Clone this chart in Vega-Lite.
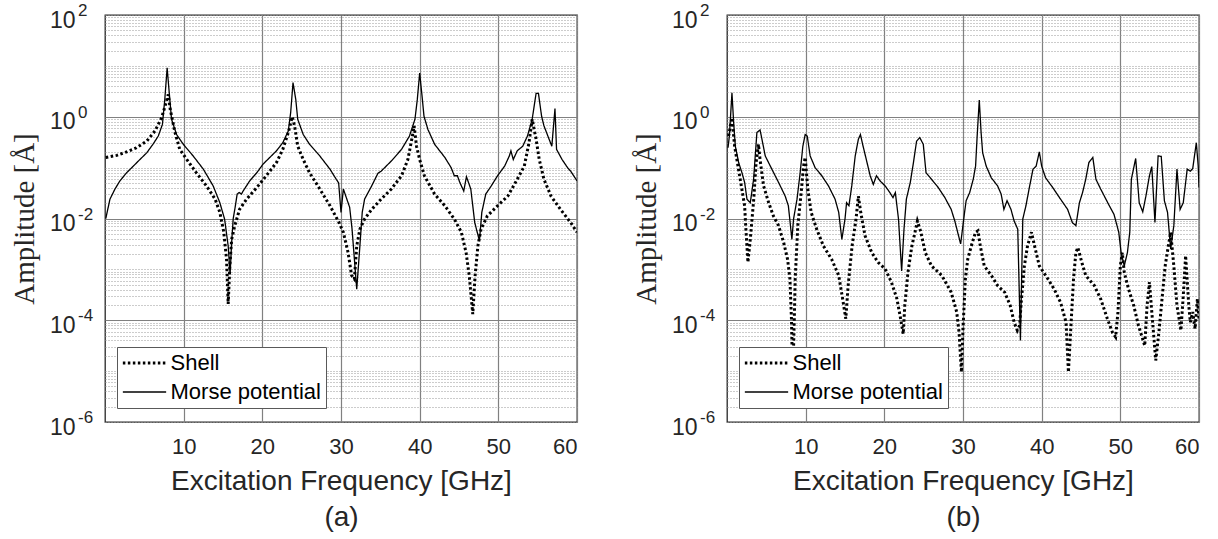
{
"$schema": "https://vega.github.io/schema/vega-lite/v6.json",
"background": "white",
"padding": {"left": 9, "top": 1, "right": 5, "bottom": 5},
"config": {
  "view": {"stroke": "#262626", "strokeWidth": 1.3},
  "font": "Liberation Sans",
  "axis": {"labelFont": "Liberation Sans", "titleFont": "Liberation Sans", "labelColor": "#262626", "titleColor": "#262626", "titleFontWeight": "normal", "domain": false, "ticks": false},
  "legend": {"orient": "none", "legendX": 12, "legendY": 332, "title": null, "fillColor": "white", "strokeColor": "#595959", "padding": 5, "labelFontSize": 22, "labelColor": "black", "labelFont": "Liberation Sans", "symbolType": "M-2.5,0H2.5", "symbolSize": 300, "symbolStrokeColor": "black", "symbolFillColor": "transparent", "symbolOffset": 11.5, "rowPadding": 7, "labelOffset": 15}
},
"datasets": {
"exps": [{"A":100,"e":"2"},{"A":1,"e":"0"},{"A":0.01,"e":"-2"},{"A":0.0001,"e":"-4"},{"A":0.000001,"e":"-6"}],
"a": [
{"f":0.1,"A":0.01,"s":"Morse potential"},{"f":0.63,"A":0.024,"s":"Morse potential"},{"f":1.27,"A":0.038,"s":"Morse potential"},{"f":1.9,"A":0.055,"s":"Morse potential"},{"f":2.75,"A":0.0794,"s":"Morse potential"},{"f":3.6,"A":0.107,"s":"Morse potential"},{"f":4.44,"A":0.1445,"s":"Morse potential"},{"f":5.3,"A":0.195,"s":"Morse potential"},{"f":6.1,"A":0.288,"s":"Morse potential"},{"f":6.77,"A":0.417,"s":"Morse potential"},{"f":7.3,"A":0.708,"s":"Morse potential"},{"f":7.6,"A":2.19,"s":"Morse potential"},{"f":7.9,"A":9.12,"s":"Morse potential"},{"f":8.2,"A":2.57,"s":"Morse potential"},{"f":8.46,"A":0.891,"s":"Morse potential"},{"f":9.1,"A":0.447,"s":"Morse potential"},{"f":9.95,"A":0.288,"s":"Morse potential"},{"f":11.2,"A":0.17,"s":"Morse potential"},{"f":12.5,"A":0.0933,"s":"Morse potential"},{"f":13.75,"A":0.0437,"s":"Morse potential"},{"f":14.6,"A":0.0204,"s":"Morse potential"},{"f":15.2,"A":0.00977,"s":"Morse potential"},{"f":15.66,"A":0.00288,"s":"Morse potential"},{"f":15.9,"A":0.000794,"s":"Morse potential"},{"f":16.1,"A":0.00339,"s":"Morse potential"},{"f":16.3,"A":0.01,"s":"Morse potential"},{"f":16.5,"A":0.0151,"s":"Morse potential"},{"f":16.8,"A":0.0302,"s":"Morse potential"},{"f":17.05,"A":0.0324,"s":"Morse potential"},{"f":17.35,"A":0.0302,"s":"Morse potential"},{"f":17.56,"A":0.0347,"s":"Morse potential"},{"f":18.4,"A":0.055,"s":"Morse potential"},{"f":19.3,"A":0.0794,"s":"Morse potential"},{"f":20.1,"A":0.1175,"s":"Morse potential"},{"f":20.95,"A":0.1585,"s":"Morse potential"},{"f":21.8,"A":0.214,"s":"Morse potential"},{"f":22.6,"A":0.309,"s":"Morse potential"},{"f":23.3,"A":0.525,"s":"Morse potential"},{"f":23.6,"A":1.2,"s":"Morse potential"},{"f":23.9,"A":4.68,"s":"Morse potential"},{"f":24.25,"A":2.19,"s":"Morse potential"},{"f":24.5,"A":0.891,"s":"Morse potential"},{"f":25.2,"A":0.447,"s":"Morse potential"},{"f":26.0,"A":0.288,"s":"Morse potential"},{"f":27.3,"A":0.17,"s":"Morse potential"},{"f":28.6,"A":0.0933,"s":"Morse potential"},{"f":29.4,"A":0.0589,"s":"Morse potential"},{"f":29.7,"A":0.0501,"s":"Morse potential"},{"f":30.0,"A":0.0132,"s":"Morse potential"},{"f":30.3,"A":0.038,"s":"Morse potential"},{"f":31.1,"A":0.0166,"s":"Morse potential"},{"f":31.4,"A":0.00631,"s":"Morse potential"},{"f":32.0,"A":0.000407,"s":"Morse potential"},{"f":32.4,"A":0.00288,"s":"Morse potential"},{"f":32.7,"A":0.0132,"s":"Morse potential"},{"f":33.0,"A":0.024,"s":"Morse potential"},{"f":33.9,"A":0.0437,"s":"Morse potential"},{"f":34.7,"A":0.0776,"s":"Morse potential"},{"f":35.1,"A":0.0851,"s":"Morse potential"},{"f":36.4,"A":0.135,"s":"Morse potential"},{"f":37.7,"A":0.229,"s":"Morse potential"},{"f":38.7,"A":0.417,"s":"Morse potential"},{"f":39.4,"A":0.891,"s":"Morse potential"},{"f":39.7,"A":2.19,"s":"Morse potential"},{"f":40.0,"A":7.24,"s":"Morse potential"},{"f":40.3,"A":2.57,"s":"Morse potential"},{"f":40.55,"A":1.023,"s":"Morse potential"},{"f":41.05,"A":0.562,"s":"Morse potential"},{"f":41.9,"A":0.288,"s":"Morse potential"},{"f":43.2,"A":0.1585,"s":"Morse potential"},{"f":44.0,"A":0.1,"s":"Morse potential"},{"f":44.4,"A":0.0692,"s":"Morse potential"},{"f":44.8,"A":0.0692,"s":"Morse potential"},{"f":45.1,"A":0.0513,"s":"Morse potential"},{"f":45.6,"A":0.0347,"s":"Morse potential"},{"f":45.95,"A":0.0661,"s":"Morse potential"},{"f":46.5,"A":0.038,"s":"Morse potential"},{"f":47.0,"A":0.00832,"s":"Morse potential"},{"f":47.6,"A":0.00363,"s":"Morse potential"},{"f":47.9,"A":0.0132,"s":"Morse potential"},{"f":48.4,"A":0.0302,"s":"Morse potential"},{"f":49.1,"A":0.0437,"s":"Morse potential"},{"f":49.9,"A":0.0692,"s":"Morse potential"},{"f":50.8,"A":0.107,"s":"Morse potential"},{"f":51.4,"A":0.17,"s":"Morse potential"},{"f":51.6,"A":0.214,"s":"Morse potential"},{"f":51.9,"A":0.1445,"s":"Morse potential"},{"f":52.4,"A":0.214,"s":"Morse potential"},{"f":53.1,"A":0.263,"s":"Morse potential"},{"f":53.7,"A":0.417,"s":"Morse potential"},{"f":54.3,"A":0.891,"s":"Morse potential"},{"f":54.8,"A":2.88,"s":"Morse potential"},{"f":55.1,"A":2.88,"s":"Morse potential"},{"f":55.5,"A":1.023,"s":"Morse potential"},{"f":55.8,"A":0.661,"s":"Morse potential"},{"f":56.8,"A":0.263,"s":"Morse potential"},{"f":57.2,"A":1.445,"s":"Morse potential"},{"f":57.4,"A":0.229,"s":"Morse potential"},{"f":58.1,"A":0.1445,"s":"Morse potential"},{"f":58.8,"A":0.1,"s":"Morse potential"},{"f":59.2,"A":0.0851,"s":"Morse potential"},{"f":60.0,"A":0.055,"s":"Morse potential"},
{"f":0.1,"A":0.1585,"s":"Shell"},{"f":1.5,"A":0.174,"s":"Shell"},{"f":2.75,"A":0.204,"s":"Shell"},{"f":4.0,"A":0.2455,"s":"Shell"},{"f":5.3,"A":0.331,"s":"Shell"},{"f":6.35,"A":0.525,"s":"Shell"},{"f":7.2,"A":0.955,"s":"Shell"},{"f":7.75,"A":1.86,"s":"Shell"},{"f":8.04,"A":2.75,"s":"Shell"},{"f":8.3,"A":1.38,"s":"Shell"},{"f":8.9,"A":0.49,"s":"Shell"},{"f":9.5,"A":0.229,"s":"Shell"},{"f":10.4,"A":0.1445,"s":"Shell"},{"f":11.6,"A":0.0794,"s":"Shell"},{"f":12.9,"A":0.0437,"s":"Shell"},{"f":14.0,"A":0.024,"s":"Shell"},{"f":14.6,"A":0.0132,"s":"Shell"},{"f":15.1,"A":0.00537,"s":"Shell"},{"f":15.45,"A":0.00158,"s":"Shell"},{"f":15.66,"A":0.000209,"s":"Shell"},{"f":15.87,"A":0.00117,"s":"Shell"},{"f":16.1,"A":0.00389,"s":"Shell"},{"f":16.5,"A":0.00724,"s":"Shell"},{"f":17.1,"A":0.0151,"s":"Shell"},{"f":18.0,"A":0.024,"s":"Shell"},{"f":19.3,"A":0.0407,"s":"Shell"},{"f":20.5,"A":0.0692,"s":"Shell"},{"f":21.8,"A":0.1259,"s":"Shell"},{"f":22.6,"A":0.229,"s":"Shell"},{"f":23.3,"A":0.49,"s":"Shell"},{"f":23.8,"A":1.0,"s":"Shell"},{"f":24.1,"A":0.661,"s":"Shell"},{"f":24.5,"A":0.263,"s":"Shell"},{"f":25.2,"A":0.1445,"s":"Shell"},{"f":26.0,"A":0.0794,"s":"Shell"},{"f":27.3,"A":0.038,"s":"Shell"},{"f":28.6,"A":0.0178,"s":"Shell"},{"f":29.75,"A":0.00832,"s":"Shell"},{"f":30.3,"A":0.00537,"s":"Shell"},{"f":30.9,"A":0.00214,"s":"Shell"},{"f":31.35,"A":0.000759,"s":"Shell"},{"f":31.7,"A":0.000646,"s":"Shell"},{"f":32.0,"A":0.00288,"s":"Shell"},{"f":32.4,"A":0.00617,"s":"Shell"},{"f":33.0,"A":0.00977,"s":"Shell"},{"f":33.9,"A":0.0151,"s":"Shell"},{"f":35.1,"A":0.024,"s":"Shell"},{"f":36.4,"A":0.038,"s":"Shell"},{"f":37.7,"A":0.0692,"s":"Shell"},{"f":38.5,"A":0.1445,"s":"Shell"},{"f":39.0,"A":0.363,"s":"Shell"},{"f":39.3,"A":0.661,"s":"Shell"},{"f":39.6,"A":0.263,"s":"Shell"},{"f":40.0,"A":0.1445,"s":"Shell"},{"f":40.6,"A":0.0692,"s":"Shell"},{"f":41.9,"A":0.0302,"s":"Shell"},{"f":43.2,"A":0.0178,"s":"Shell"},{"f":44.4,"A":0.00977,"s":"Shell"},{"f":45.3,"A":0.00537,"s":"Shell"},{"f":45.9,"A":0.00214,"s":"Shell"},{"f":46.3,"A":0.000759,"s":"Shell"},{"f":46.75,"A":0.000132,"s":"Shell"},{"f":47.05,"A":0.000759,"s":"Shell"},{"f":47.4,"A":0.00288,"s":"Shell"},{"f":47.8,"A":0.00617,"s":"Shell"},{"f":48.6,"A":0.0112,"s":"Shell"},{"f":49.9,"A":0.0178,"s":"Shell"},{"f":51.2,"A":0.0275,"s":"Shell"},{"f":52.4,"A":0.0589,"s":"Shell"},{"f":53.3,"A":0.107,"s":"Shell"},{"f":53.9,"A":0.309,"s":"Shell"},{"f":54.3,"A":0.891,"s":"Shell"},{"f":54.8,"A":0.363,"s":"Shell"},{"f":55.2,"A":0.1445,"s":"Shell"},{"f":55.8,"A":0.0589,"s":"Shell"},{"f":56.7,"A":0.0275,"s":"Shell"},{"f":57.9,"A":0.0151,"s":"Shell"},{"f":59.2,"A":0.00832,"s":"Shell"},{"f":60.0,"A":0.00537,"s":"Shell"}
],
"b": [
{"f":0.13,"A":0.2455,"s":"Morse potential"},{"f":0.3,"A":0.417,"s":"Morse potential"},{"f":0.63,"A":2.95,"s":"Morse potential"},{"f":0.85,"A":0.759,"s":"Morse potential"},{"f":1.06,"A":0.263,"s":"Morse potential"},{"f":1.48,"A":0.1259,"s":"Morse potential"},{"f":1.9,"A":0.0794,"s":"Morse potential"},{"f":2.24,"A":0.0513,"s":"Morse potential"},{"f":2.54,"A":0.024,"s":"Morse potential"},{"f":2.96,"A":0.0204,"s":"Morse potential"},{"f":3.38,"A":0.0589,"s":"Morse potential"},{"f":3.8,"A":0.49,"s":"Morse potential"},{"f":4.2,"A":0.55,"s":"Morse potential"},{"f":4.44,"A":0.363,"s":"Morse potential"},{"f":4.86,"A":0.17,"s":"Morse potential"},{"f":5.7,"A":0.0933,"s":"Morse potential"},{"f":6.55,"A":0.0513,"s":"Morse potential"},{"f":7.4,"A":0.0275,"s":"Morse potential"},{"f":7.8,"A":0.0178,"s":"Morse potential"},{"f":8.25,"A":0.00389,"s":"Morse potential"},{"f":8.46,"A":0.00977,"s":"Morse potential"},{"f":8.9,"A":0.024,"s":"Morse potential"},{"f":9.3,"A":0.0794,"s":"Morse potential"},{"f":9.64,"A":0.263,"s":"Morse potential"},{"f":9.94,"A":0.447,"s":"Morse potential"},{"f":10.2,"A":0.417,"s":"Morse potential"},{"f":10.57,"A":0.17,"s":"Morse potential"},{"f":11.2,"A":0.1,"s":"Morse potential"},{"f":12.05,"A":0.0692,"s":"Morse potential"},{"f":12.9,"A":0.0437,"s":"Morse potential"},{"f":13.74,"A":0.024,"s":"Morse potential"},{"f":14.2,"A":0.0132,"s":"Morse potential"},{"f":14.6,"A":0.00389,"s":"Morse potential"},{"f":15.0,"A":0.00977,"s":"Morse potential"},{"f":15.2,"A":0.0204,"s":"Morse potential"},{"f":15.5,"A":0.0178,"s":"Morse potential"},{"f":15.86,"A":0.0437,"s":"Morse potential"},{"f":16.3,"A":0.17,"s":"Morse potential"},{"f":16.7,"A":0.363,"s":"Morse potential"},{"f":16.96,"A":0.447,"s":"Morse potential"},{"f":17.3,"A":0.263,"s":"Morse potential"},{"f":17.8,"A":0.1259,"s":"Morse potential"},{"f":18.2,"A":0.0692,"s":"Morse potential"},{"f":18.6,"A":0.0468,"s":"Morse potential"},{"f":19.0,"A":0.0692,"s":"Morse potential"},{"f":19.45,"A":0.055,"s":"Morse potential"},{"f":20.1,"A":0.0437,"s":"Morse potential"},{"f":20.7,"A":0.0324,"s":"Morse potential"},{"f":21.1,"A":0.0257,"s":"Morse potential"},{"f":21.4,"A":0.0324,"s":"Morse potential"},{"f":21.8,"A":0.00977,"s":"Morse potential"},{"f":22.2,"A":0.000933,"s":"Morse potential"},{"f":22.5,"A":0.00617,"s":"Morse potential"},{"f":22.8,"A":0.024,"s":"Morse potential"},{"f":23.3,"A":0.0513,"s":"Morse potential"},{"f":23.7,"A":0.1259,"s":"Morse potential"},{"f":24.1,"A":0.331,"s":"Morse potential"},{"f":24.5,"A":0.389,"s":"Morse potential"},{"f":24.95,"A":0.288,"s":"Morse potential"},{"f":25.3,"A":0.0794,"s":"Morse potential"},{"f":26.0,"A":0.0589,"s":"Morse potential"},{"f":26.85,"A":0.0407,"s":"Morse potential"},{"f":27.7,"A":0.0257,"s":"Morse potential"},{"f":28.5,"A":0.0151,"s":"Morse potential"},{"f":28.96,"A":0.00891,"s":"Morse potential"},{"f":29.7,"A":0.00316,"s":"Morse potential"},{"f":30.2,"A":0.0132,"s":"Morse potential"},{"f":30.4,"A":0.0224,"s":"Morse potential"},{"f":30.85,"A":0.0324,"s":"Morse potential"},{"f":31.3,"A":0.0589,"s":"Morse potential"},{"f":31.6,"A":0.107,"s":"Morse potential"},{"f":31.8,"A":0.417,"s":"Morse potential"},{"f":32.07,"A":2.14,"s":"Morse potential"},{"f":32.3,"A":0.49,"s":"Morse potential"},{"f":32.5,"A":0.195,"s":"Morse potential"},{"f":32.95,"A":0.107,"s":"Morse potential"},{"f":33.6,"A":0.0631,"s":"Morse potential"},{"f":34.4,"A":0.0437,"s":"Morse potential"},{"f":34.85,"A":0.0302,"s":"Morse potential"},{"f":35.2,"A":0.0151,"s":"Morse potential"},{"f":35.6,"A":0.0224,"s":"Morse potential"},{"f":36.1,"A":0.0151,"s":"Morse potential"},{"f":36.5,"A":0.00891,"s":"Morse potential"},{"f":36.96,"A":0.00617,"s":"Morse potential"},{"f":37.3,"A":0.0000398,"s":"Morse potential"},{"f":37.6,"A":0.00977,"s":"Morse potential"},{"f":38.0,"A":0.0178,"s":"Morse potential"},{"f":38.4,"A":0.038,"s":"Morse potential"},{"f":38.9,"A":0.0933,"s":"Morse potential"},{"f":39.3,"A":0.107,"s":"Morse potential"},{"f":39.7,"A":0.204,"s":"Morse potential"},{"f":40.0,"A":0.107,"s":"Morse potential"},{"f":40.5,"A":0.0631,"s":"Morse potential"},{"f":41.4,"A":0.0407,"s":"Morse potential"},{"f":42.4,"A":0.024,"s":"Morse potential"},{"f":43.3,"A":0.0151,"s":"Morse potential"},{"f":43.9,"A":0.00832,"s":"Morse potential"},{"f":44.35,"A":0.00724,"s":"Morse potential"},{"f":44.8,"A":0.0204,"s":"Morse potential"},{"f":45.2,"A":0.0324,"s":"Morse potential"},{"f":45.6,"A":0.0589,"s":"Morse potential"},{"f":46.0,"A":0.1259,"s":"Morse potential"},{"f":46.5,"A":0.1585,"s":"Morse potential"},{"f":46.9,"A":0.0589,"s":"Morse potential"},{"f":47.5,"A":0.038,"s":"Morse potential"},{"f":48.4,"A":0.0204,"s":"Morse potential"},{"f":49.2,"A":0.012,"s":"Morse potential"},{"f":49.8,"A":0.00537,"s":"Morse potential"},{"f":50.1,"A":0.00214,"s":"Morse potential"},{"f":50.5,"A":0.00117,"s":"Morse potential"},{"f":50.9,"A":0.00214,"s":"Morse potential"},{"f":51.2,"A":0.00537,"s":"Morse potential"},{"f":51.4,"A":0.0589,"s":"Morse potential"},{"f":51.95,"A":0.1514,"s":"Morse potential"},{"f":52.4,"A":0.0204,"s":"Morse potential"},{"f":52.85,"A":0.0135,"s":"Morse potential"},{"f":53.25,"A":0.0275,"s":"Morse potential"},{"f":53.7,"A":0.0692,"s":"Morse potential"},{"f":54.0,"A":0.1047,"s":"Morse potential"},{"f":54.4,"A":0.00832,"s":"Morse potential"},{"f":54.8,"A":0.17,"s":"Morse potential"},{"f":55.2,"A":0.166,"s":"Morse potential"},{"f":55.6,"A":0.0224,"s":"Morse potential"},{"f":56.0,"A":0.0132,"s":"Morse potential"},{"f":56.4,"A":0.00251,"s":"Morse potential"},{"f":56.8,"A":0.00724,"s":"Morse potential"},{"f":57.2,"A":0.0933,"s":"Morse potential"},{"f":57.6,"A":0.0151,"s":"Morse potential"},{"f":58.0,"A":0.0204,"s":"Morse potential"},{"f":58.5,"A":0.0933,"s":"Morse potential"},{"f":58.9,"A":0.0851,"s":"Morse potential"},{"f":59.2,"A":0.0955,"s":"Morse potential"},{"f":59.66,"A":0.309,"s":"Morse potential"},{"f":59.9,"A":0.107,"s":"Morse potential"},{"f":60.0,"A":0.0407,"s":"Morse potential"},
{"f":0.2,"A":0.417,"s":"Shell"},{"f":0.63,"A":0.955,"s":"Shell"},{"f":0.97,"A":0.263,"s":"Shell"},{"f":1.4,"A":0.107,"s":"Shell"},{"f":1.82,"A":0.0437,"s":"Shell"},{"f":2.24,"A":0.0178,"s":"Shell"},{"f":2.4,"A":0.00617,"s":"Shell"},{"f":2.66,"A":0.00138,"s":"Shell"},{"f":2.96,"A":0.00389,"s":"Shell"},{"f":3.4,"A":0.024,"s":"Shell"},{"f":3.7,"A":0.1259,"s":"Shell"},{"f":4.0,"A":0.288,"s":"Shell"},{"f":4.2,"A":0.1445,"s":"Shell"},{"f":4.65,"A":0.0437,"s":"Shell"},{"f":5.3,"A":0.0204,"s":"Shell"},{"f":5.9,"A":0.0112,"s":"Shell"},{"f":6.55,"A":0.00724,"s":"Shell"},{"f":7.2,"A":0.00339,"s":"Shell"},{"f":7.7,"A":0.00158,"s":"Shell"},{"f":8.0,"A":0.000646,"s":"Shell"},{"f":8.2,"A":0.0001,"s":"Shell"},{"f":8.35,"A":0.0000063,"s":"Shell"},{"f":8.55,"A":0.0001,"s":"Shell"},{"f":8.67,"A":0.000646,"s":"Shell"},{"f":9.0,"A":0.00724,"s":"Shell"},{"f":9.43,"A":0.0324,"s":"Shell"},{"f":9.73,"A":0.107,"s":"Shell"},{"f":9.94,"A":0.1585,"s":"Shell"},{"f":10.27,"A":0.038,"s":"Shell"},{"f":10.7,"A":0.0132,"s":"Shell"},{"f":11.4,"A":0.00617,"s":"Shell"},{"f":12.26,"A":0.00288,"s":"Shell"},{"f":13.3,"A":0.00158,"s":"Shell"},{"f":14.2,"A":0.000759,"s":"Shell"},{"f":14.7,"A":0.000263,"s":"Shell"},{"f":15.1,"A":0.000107,"s":"Shell"},{"f":15.4,"A":0.000479,"s":"Shell"},{"f":15.9,"A":0.00288,"s":"Shell"},{"f":16.4,"A":0.00977,"s":"Shell"},{"f":16.7,"A":0.0275,"s":"Shell"},{"f":17.0,"A":0.0132,"s":"Shell"},{"f":17.55,"A":0.00457,"s":"Shell"},{"f":18.4,"A":0.00214,"s":"Shell"},{"f":19.2,"A":0.00138,"s":"Shell"},{"f":20.1,"A":0.00102,"s":"Shell"},{"f":20.9,"A":0.000562,"s":"Shell"},{"f":21.6,"A":0.000263,"s":"Shell"},{"f":22.0,"A":0.000123,"s":"Shell"},{"f":22.4,"A":0.0000537,"s":"Shell"},{"f":22.6,"A":0.000195,"s":"Shell"},{"f":23.0,"A":0.000871,"s":"Shell"},{"f":23.5,"A":0.00288,"s":"Shell"},{"f":23.9,"A":0.00537,"s":"Shell"},{"f":24.2,"A":0.00891,"s":"Shell"},{"f":24.65,"A":0.00537,"s":"Shell"},{"f":25.2,"A":0.00214,"s":"Shell"},{"f":26.0,"A":0.00117,"s":"Shell"},{"f":27.3,"A":0.000759,"s":"Shell"},{"f":28.5,"A":0.000355,"s":"Shell"},{"f":29.2,"A":0.000145,"s":"Shell"},{"f":29.5,"A":0.0000575,"s":"Shell"},{"f":29.8,"A":0.00000955,"s":"Shell"},{"f":30.0,"A":0.0000676,"s":"Shell"},{"f":30.3,"A":0.000646,"s":"Shell"},{"f":30.6,"A":0.00158,"s":"Shell"},{"f":31.05,"A":0.00288,"s":"Shell"},{"f":31.6,"A":0.00537,"s":"Shell"},{"f":31.9,"A":0.00575,"s":"Shell"},{"f":32.2,"A":0.00288,"s":"Shell"},{"f":32.7,"A":0.00117,"s":"Shell"},{"f":33.6,"A":0.000759,"s":"Shell"},{"f":34.4,"A":0.000479,"s":"Shell"},{"f":35.3,"A":0.000355,"s":"Shell"},{"f":36.0,"A":0.000195,"s":"Shell"},{"f":36.5,"A":0.0000912,"s":"Shell"},{"f":36.9,"A":0.0000631,"s":"Shell"},{"f":37.2,"A":0.0000794,"s":"Shell"},{"f":37.4,"A":0.000224,"s":"Shell"},{"f":37.8,"A":0.00117,"s":"Shell"},{"f":38.2,"A":0.00288,"s":"Shell"},{"f":38.7,"A":0.00537,"s":"Shell"},{"f":39.1,"A":0.00288,"s":"Shell"},{"f":39.7,"A":0.00117,"s":"Shell"},{"f":40.8,"A":0.000646,"s":"Shell"},{"f":41.6,"A":0.000407,"s":"Shell"},{"f":42.4,"A":0.000224,"s":"Shell"},{"f":43.1,"A":0.0000912,"s":"Shell"},{"f":43.4,"A":0.00000955,"s":"Shell"},{"f":43.7,"A":0.0000676,"s":"Shell"},{"f":44.05,"A":0.000646,"s":"Shell"},{"f":44.35,"A":0.00214,"s":"Shell"},{"f":44.6,"A":0.00269,"s":"Shell"},{"f":45.1,"A":0.00138,"s":"Shell"},{"f":45.6,"A":0.000759,"s":"Shell"},{"f":46.7,"A":0.000479,"s":"Shell"},{"f":47.5,"A":0.000263,"s":"Shell"},{"f":48.35,"A":0.000107,"s":"Shell"},{"f":49.0,"A":0.0000575,"s":"Shell"},{"f":49.4,"A":0.0000468,"s":"Shell"},{"f":49.7,"A":0.000145,"s":"Shell"},{"f":50.0,"A":0.00117,"s":"Shell"},{"f":50.25,"A":0.00214,"s":"Shell"},{"f":50.5,"A":0.000871,"s":"Shell"},{"f":51.05,"A":0.000407,"s":"Shell"},{"f":51.7,"A":0.000195,"s":"Shell"},{"f":52.3,"A":0.0000794,"s":"Shell"},{"f":53.1,"A":0.0000316,"s":"Shell"},{"f":53.4,"A":0.000195,"s":"Shell"},{"f":53.7,"A":0.000562,"s":"Shell"},{"f":54.0,"A":0.000145,"s":"Shell"},{"f":54.5,"A":0.0000162,"s":"Shell"},{"f":54.9,"A":0.0000575,"s":"Shell"},{"f":55.3,"A":0.000263,"s":"Shell"},{"f":55.7,"A":0.00117,"s":"Shell"},{"f":56.1,"A":0.00288,"s":"Shell"},{"f":56.4,"A":0.00537,"s":"Shell"},{"f":56.8,"A":0.00117,"s":"Shell"},{"f":57.2,"A":0.000195,"s":"Shell"},{"f":57.7,"A":0.0000631,"s":"Shell"},{"f":58.0,"A":0.000302,"s":"Shell"},{"f":58.3,"A":0.00186,"s":"Shell"},{"f":58.7,"A":0.000195,"s":"Shell"},{"f":58.9,"A":0.0000912,"s":"Shell"},{"f":59.2,"A":0.000145,"s":"Shell"},{"f":59.5,"A":0.0000676,"s":"Shell"},{"f":59.8,"A":0.000263,"s":"Shell"},{"f":60.0,"A":0.000107,"s":"Shell"}
]
},
"hconcat": [
{
  "width": 472, "height": 407,
  "layer": [
  {
  "data": {"name": "a"},
  "mark": {"type": "line", "color": "black", "clip": true},
  "encoding": {
    "x": {"field": "f", "type": "quantitative", "scale": {"domain": [0, 60], "nice": false},
      "axis": {"values": [10, 20, 30, 40, 50, 60], "grid": true, "gridColor": "#808080", "gridWidth": 1.2, "labelFontSize": 22, "labelPadding": 14, "title": ["Excitation Frequency [GHz]", "(a)"], "titleFontSize": 28, "titleLineHeight": 36, "titlePadding": 10}},
    "y": {"field": "A", "type": "quantitative", "scale": {"type": "log", "domain": [0.000001, 100], "nice": false},
      "axis": {"values": [0.000001,0.000002,0.000003,0.000004,0.000005,0.000006,0.000007,0.000008,0.000009,0.00001,0.00002,0.00003,0.00004,0.00005,0.00006,0.00007,0.00008,0.00009,0.0001,0.0002,0.0003,0.0004,0.0005,0.0006,0.0007,0.0008,0.0009,0.001,0.002,0.003,0.004,0.005,0.006,0.007,0.008,0.009,0.01,0.02,0.03,0.04,0.05,0.06,0.07,0.08,0.09,0.1,0.2,0.3,0.4,0.5,0.6,0.7,0.8,0.9,1,2,3,4,5,6,7,8,9,10,20,30,40,50,60,70,80,90,100],
        "labelExpr": "datum.value===100||datum.value===1||datum.value===0.01||datum.value===0.0001||datum.value===0.000001?'10':''",
        "grid": true,
        "gridColor": {"condition": {"test": "datum.value===1||datum.value===0.01||datum.value===0.0001", "value": "#808080"}, "value": "#999999"},
        "gridDash": {"condition": {"test": "datum.value===1||datum.value===0.01||datum.value===0.0001", "value": []}, "value": [1, 2]},
        "gridWidth": {"condition": {"test": "datum.value===1||datum.value===0.01||datum.value===0.0001", "value": 1.2}, "value": 1},
        "labelFontSize": 23, "labelPadding": 30, "labelOffset": 5, "labelOverlap": false,
        "title": "Amplitude [Å]", "titleFont": "Liberation Serif", "titleFontSize": 29, "titlePadding": 10}},
    "strokeDash": {"field": "s", "type": "nominal", "scale": {"domain": ["Shell", "Morse potential"], "range": [[2.5, 2.5], [1, 0]]}},
    "strokeWidth": {"field": "s", "type": "nominal", "scale": {"domain": ["Shell", "Morse potential"], "range": [3, 1.3]}}
  }
  },
  {
  "data": {"name": "exps"},
  "mark": {"type": "text", "align": "left", "baseline": "middle", "dx": -27, "dy": -4, "fontSize": 17, "color": "#262626", "font": "Liberation Sans"},
  "encoding": {
    "x": {"datum": 0, "type": "quantitative"},
    "y": {"field": "A", "type": "quantitative"},
    "text": {"field": "e"}
  }
  }
  ]
},
{
  "width": 472, "height": 407,
  "layer": [
  {
  "data": {"name": "b"},
  "mark": {"type": "line", "color": "black", "clip": true},
  "encoding": {
    "x": {"field": "f", "type": "quantitative", "scale": {"domain": [0, 60], "nice": false},
      "axis": {"values": [10, 20, 30, 40, 50, 60], "grid": true, "gridColor": "#808080", "gridWidth": 1.2, "labelFontSize": 22, "labelPadding": 14, "title": ["Excitation Frequency [GHz]", "(b)"], "titleFontSize": 28, "titleLineHeight": 36, "titlePadding": 10}},
    "y": {"field": "A", "type": "quantitative", "scale": {"type": "log", "domain": [0.000001, 100], "nice": false},
      "axis": {"values": [0.000001,0.000002,0.000003,0.000004,0.000005,0.000006,0.000007,0.000008,0.000009,0.00001,0.00002,0.00003,0.00004,0.00005,0.00006,0.00007,0.00008,0.00009,0.0001,0.0002,0.0003,0.0004,0.0005,0.0006,0.0007,0.0008,0.0009,0.001,0.002,0.003,0.004,0.005,0.006,0.007,0.008,0.009,0.01,0.02,0.03,0.04,0.05,0.06,0.07,0.08,0.09,0.1,0.2,0.3,0.4,0.5,0.6,0.7,0.8,0.9,1,2,3,4,5,6,7,8,9,10,20,30,40,50,60,70,80,90,100],
        "labelExpr": "datum.value===100||datum.value===1||datum.value===0.01||datum.value===0.0001||datum.value===0.000001?'10':''",
        "grid": true,
        "gridColor": {"condition": {"test": "datum.value===1||datum.value===0.01||datum.value===0.0001", "value": "#808080"}, "value": "#999999"},
        "gridDash": {"condition": {"test": "datum.value===1||datum.value===0.01||datum.value===0.0001", "value": []}, "value": [1, 2]},
        "gridWidth": {"condition": {"test": "datum.value===1||datum.value===0.01||datum.value===0.0001", "value": 1.2}, "value": 1},
        "labelFontSize": 23, "labelPadding": 30, "labelOffset": 5, "labelOverlap": false,
        "title": "Amplitude [Å]", "titleFont": "Liberation Serif", "titleFontSize": 29, "titlePadding": 10}},
    "strokeDash": {"field": "s", "type": "nominal", "scale": {"domain": ["Shell", "Morse potential"], "range": [[2.5, 2.5], [1, 0]]}},
    "strokeWidth": {"field": "s", "type": "nominal", "scale": {"domain": ["Shell", "Morse potential"], "range": [3, 1.3]}}
  }
  },
  {
  "data": {"name": "exps"},
  "mark": {"type": "text", "align": "left", "baseline": "middle", "dx": -27, "dy": -4, "fontSize": 17, "color": "#262626", "font": "Liberation Sans"},
  "encoding": {
    "x": {"datum": 0, "type": "quantitative"},
    "y": {"field": "A", "type": "quantitative"},
    "text": {"field": "e"}
  }
  }
  ]
}
],
"spacing": 150,
"bounds": "flush",
"resolve": {"scale": {"strokeDash": "independent", "strokeWidth": "independent"}, "legend": {"strokeDash": "independent", "strokeWidth": "independent"}}
}
